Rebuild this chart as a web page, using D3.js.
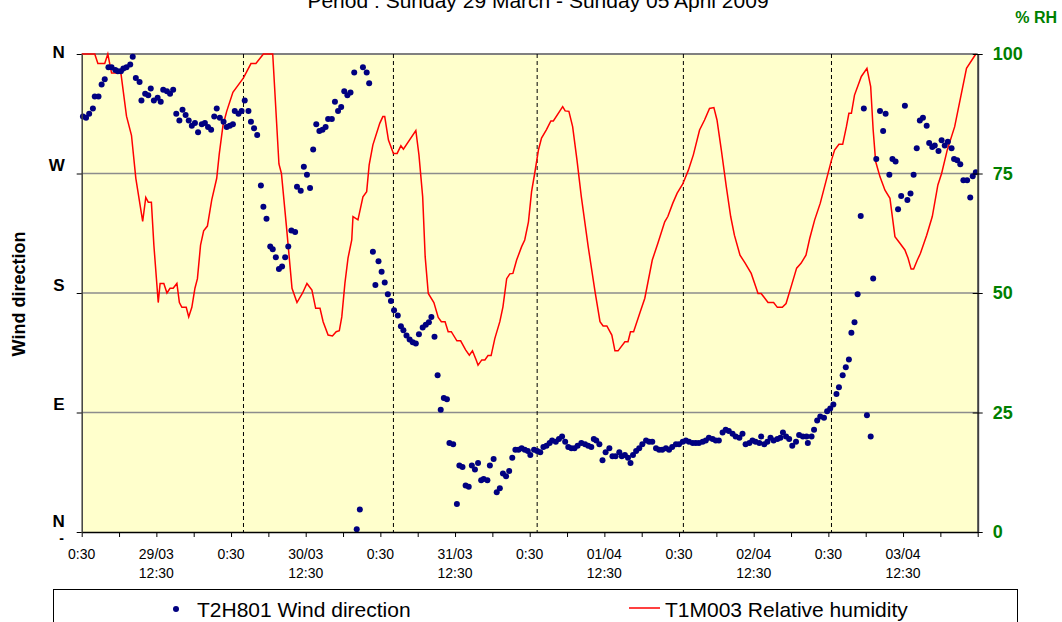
<!DOCTYPE html>
<html>
<head>
<meta charset="utf-8">
<script src="https://cdn.jsdelivr.net/npm/d3@7"></script>
<style>
  body { margin: 0; background: #fff; }
  text { font-family: "Liberation Sans", Arial, sans-serif; }
</style>
</head>
<body>
<div id="chart"></div>
<script>
// hours after 29/03 0:30
var rhHours = [0,2.1,2.6,3.7,4.2,4.8,6.3,7.2,8.0,8.7,
  9.8,10.3,10.7,11.2,11.6,12.3,12.6,13.2,13.7,14.2,
  14.7,15.3,15.7,16.1,16.8,17.2,17.7,18.2,18.6,19.1,
  19.6,20.2,20.9,21.7,22.1,22.7,23.3,24.3,26.0,27.2,
  28.0,29.2,30.7,31.7,32.1,32.9,33.8,34.6,35.5,36.2,
  37.0,37.6,38.3,38.8,39.6,40.3,40.9,41.4,41.8,42.3,
  42.8,43.4,43.6,44.4,45.2,45.8,46.2,46.8,47.9,48.4,
  48.7,49.3,50.1,50.7,51.3,51.7,53.7,54.2,54.8,55.2,
  55.7,56.6,57.3,57.8,58.4,58.9,59.4,60.3,60.9,61.7,
  62.3,62.8,63.4,63.7,64.3,64.8,65.3,65.8,66.4,67.2,
  67.7,68.3,68.8,69.3,69.9,70.7,71.2,71.8,72.3,72.8,
  73.4,73.9,74.7,75.4,75.8,77.3,77.7,78.3,78.9,79.6,
  80.3,81.4,82.5,83.3,83.8,84.4,85.2,85.7,86.2,87.3,
  87.8,88.2,88.7,89.7,90.5,91.7,92.6,93.7,94.2,95.0,
  95.7,96.6,97.5,98.3,99.3,100.1,100.9,101.6,102.1,102.8,
  103.6,104.3,104.9,105.8,106.6,107.6,108.7,109.2,110.3,111.2,
  111.8,112.6,113.2,114.1,114.9,115.6,116.4,117.0,117.8,118.7,
  119.6,120.5,121.0,121.7,122.3,122.9,123.3,123.7,124.2,125.3,
  126.2,126.8,127.2,127.6,128.3,129.1,129.9,130.7,131.5,132.3,
  132.8,133.3,133.7,134.3,134.8,135.8,136.7,137.6,138.2,139.1,
  140.3,142.2,143.7];
var rhValues = [100,100,98,98,100,96,96,87,83,74,
  65,70,69,69,60,48,52,52,50,51,
  51,52,48,47,47,45,47,51,53,60,
  63,64,69.5,74,79,85,88,92,95,98,
  98,100,100,77,75,64,51,48,50,52,
  50.6,46.8,46.8,44,41.2,41,41.9,42.1,45,52,
  57.3,61.1,66,65.3,70.1,71.2,76.8,81,85.5,86.9,
  86.9,82,79.2,79.2,80.8,80.1,84,78.9,70.1,57.6,
  49.9,48,44.9,44,44,41.9,41.9,40,40,38.1,
  37,37.9,36,34.9,36,36,36.9,36.9,40.5,44,
  47.1,53,54,54.1,56.9,59.7,61.1,64.9,71.2,75,
  79.9,82.4,84.2,86,86,89,88.1,88,84.8,77.8,
  70.1,59.7,50.3,44,43.1,43.1,41.2,37.9,37.9,39.8,
  39.8,41.9,41.9,45.8,48.9,56.9,60.4,64.9,66,68.8,
  70.9,72.8,75.7,78.9,84.1,86.2,88.6,88.8,86.2,79.9,
  72.2,66,62.1,57.9,56.3,54.1,49.9,49.9,48,48,
  47,47,47.8,51.7,55.2,56.2,57.9,61.4,65.3,68.8,
  73.3,77.8,79.9,81.1,81.1,84.8,87.6,87.6,91.4,95.3,
  97,93.2,84.1,77.5,74.3,71.5,69.8,61.8,60.4,59,
  57.3,55,55,56.9,58.3,62.1,66,72.6,75,79.9,
  84.8,97,100];

var windHours = [0.2,0.7,1.2,1.8,2.1,2.7,3.2,3.7,4.3,4.8,
  5.4,5.8,6.3,6.7,7.2,7.8,8.2,8.7,9.3,9.6,
  10.2,10.7,11.1,11.6,12.2,12.7,13.1,13.7,14.2,14.7,
  15.2,15.7,16.2,16.7,17.2,17.7,18.2,18.7,19.3,19.8,
  20.3,20.8,21.3,21.7,22.2,22.8,23.3,23.8,24.3,24.6,
  25.2,25.7,26.2,26.8,27.2,27.7,28.2,28.8,29.2,29.7,
  30.3,30.7,31.2,31.7,32.2,32.7,33.2,33.7,34.3,34.6,
  35.2,35.7,36.2,36.7,37.2,37.7,38.2,38.7,39.2,39.6,
  40.2,40.7,41.2,41.7,42.2,42.7,43.2,43.8,44.2,44.7,
  45.2,45.8,46.2,46.8,47.2,47.7,48.2,48.7,49.2,49.7,
  50.2,50.8,51.3,51.7,52.2,52.7,53.2,53.7,54.2,54.8,
  55.3,55.8,56.2,56.7,57.2,57.7,58.2,58.7,59.1,59.7,
  60.3,60.7,61.2,61.7,62.2,62.7,63.2,63.7,64.2,64.6,
  65.2,65.6,66.2,66.7,67.2,67.7,68.2,68.7,69.2,69.7,
  70.2,70.7,71.2,71.7,72.1,72.7,73.2,73.7,74.2,74.7,
  75.2,75.6,76.2,76.7,77.2,77.7,78.2,78.7,79.2,79.7,
  80.3,80.9,81.4,81.9,82.3,82.7,83.2,83.7,84.2,84.8,
  85.3,85.8,86.4,86.8,87.3,87.8,88.2,88.6,89.1,89.6,
  90.1,90.7,91.2,91.7,92.3,92.8,93.3,93.9,94.4,94.9,
  95.5,96.0,96.6,97.1,97.6,98.2,98.7,99.2,99.8,100.3,
  100.8,101.4,101.9,102.4,103.0,103.5,104.0,104.6,105.1,105.7,
  106.2,106.7,107.3,107.8,108.3,108.9,109.2,109.7,110.2,110.7,
  111.2,111.8,112.3,112.7,113.2,113.7,114.2,114.8,115.3,115.9,
  116.5,116.7,117.3,117.7,118.2,118.7,119.3,119.8,120.3,120.8,
  121.3,121.7,122.3,122.8,123.3,123.7,124.2,124.7,125.2,125.7,
  126.2,126.8,127.2,127.7,128.3,128.8,129.2,129.8,130.3,130.8,
  131.2,131.7,132.3,132.7,133.2,133.7,134.2,134.7,135.2,135.8,
  136.2,136.7,137.1,137.7,138.2,138.7,139.2,139.8,140.2,140.7,
  141.2,141.7,142.3,142.8,143.2,143.7];
var windDeg = [313,312,315,319,328,328,337,341,350,350,
  348,347,347,349,350,352,358,342,339,325,
  330,329,334,325,327,324,333,332,330,333,
  315,310,318,314,310,306,308,301,307,308,
  305,303,313,319,312,309,305,306,307,317,
  315,317,325,317,309,304,299,261,245,236,
  215,213,207,198,200,207,215,227,226,260,
  257,275,269,259,288,307,302,303,305,311,
  311,324,317,320,332,329,331,346,2,17,
  350,346,338,211,186,204,196,188,179,174,
  167,163,155,152,148,145,143,142,149,154,
  156,158,162,147,118,92,101,100,67,66,
  21,50,49,35,34,50,47,52,39,40,
  39,50,55,30,33,44,42,46,56,62,
  62,63,62,61,58,62,61,60,64,65,
  67,69,68,70,72,68,64,63,63,65,
  67,66,65,64,70,69,66,54,60,63,
  57,57,60,57,58,56,52,58,61,63,
  66,69,68,68,63,62,62,63,62,64,
  66,66,68,69,68,67,67,67,68,69,
  71,70,69,69,75,77,76,74,72,71,
  74,66,67,69,68,67,72,66,68,71,
  69,70,71,75,72,70,65,68,73,72,
  72,67,72,77,84,87,86,91,93,96,
  104,109,118,124,130,150,158,179,238,319,
  88,72,191,281,317,302,315,269,281,279,
  243,253,321,250,255,269,289,310,312,306,
  293,290,291,287,295,291,294,289,281,280,
  277,265,265,252,268,271];

var markerHours = [26.0, 50.1, 73.2, 96.7, 120.5];

var xLabelHours = [0,12,24,36,48,60,72,84,96,108,120,132];
var xLabelTop = ["0:30","29/03","0:30","30/03","0:30","31/03","0:30","01/04","0:30","02/04","0:30","03/04"];
var xLabelBottom = ["","12:30","","12:30","","12:30","","12:30","","12:30","","12:30"];

var dirTicks = [0, 90, 180, 270, 360];
var dirLabels = ["N", "E", "S", "W", "N"];
var rhTicks = [0, 25, 50, 75, 100];

var title = "Period : Sunday 29 March - Sunday 05 April 2009";

var width = 1062, height = 622;
var pLeft = 81.7, pRight = 977.7, pTop = 54, pBottom = 532;

var svg = d3.select("#chart").append("svg")
    .attr("width", width)
    .attr("height", height);

var x = d3.scaleLinear().domain([0, 144]).range([pLeft, pRight]);
var yDir = d3.scaleLinear().domain([0, 360]).range([pBottom, pTop]);
var yRh = d3.scaleLinear().domain([0, 100]).range([pBottom, pTop]);

svg.append("rect")
    .attr("x", pLeft).attr("y", pTop)
    .attr("width", pRight - pLeft).attr("height", pBottom - pTop)
    .style("fill", "#ffffcc");

// horizontal grid
svg.selectAll(".grid")
    .data([25, 50, 75])
  .enter().append("line")
    .attr("class", "grid")
    .attr("x1", pLeft).attr("x2", pRight)
    .attr("y1", function(d){ return yRh(d); })
    .attr("y2", function(d){ return yRh(d); })
    .style("stroke", "#8c8c8c").style("stroke-width", 1.3);

svg.append("line")
    .attr("x1", pLeft).attr("x2", pRight).attr("y1", pTop).attr("y2", pTop)
    .style("stroke", "#808080").style("stroke-width", 2);

// day markers
svg.selectAll(".marker")
    .data(markerHours)
  .enter().append("line")
    .attr("class", "marker")
    .attr("x1", function(d){ return x(d); })
    .attr("x2", function(d){ return x(d); })
    .attr("y1", pTop).attr("y2", pBottom)
    .style("stroke", "#000").style("stroke-width", 1)
    .style("stroke-dasharray", "4,3");

var rhLine = d3.line()
    .x(function(d){ return x(d[0]); })
    .y(function(d){ return yRh(d[1]); });

svg.append("path")
    .datum(d3.zip(rhHours, rhValues))
    .attr("d", rhLine)
    .style("fill", "none").style("stroke", "#ff0000").style("stroke-width", 1.5);

svg.selectAll(".dot")
    .data(d3.zip(windHours, windDeg))
  .enter().append("circle")
    .attr("class", "dot")
    .attr("cx", function(d){ return x(d[0]); })
    .attr("cy", function(d){ return yDir(d[1]); })
    .attr("r", 3)
    .style("fill", "#000080");

// bottom axis
var xg = svg.append("g")
    .attr("transform", "translate(0," + pBottom + ")")
    .call(d3.axisBottom(x).tickValues(d3.range(0, 145, 6)).tickSize(5).tickSizeOuter(0).tickFormat(""));
xg.select(".domain").style("stroke", "#000").style("stroke-width", 1.3);
xg.selectAll(".tick line").style("stroke", "#000");

var xl = svg.selectAll(".xlab")
    .data(xLabelHours)
  .enter().append("text")
    .attr("class", "xlab")
    .attr("x", function(d){ return x(d); })
    .attr("y", 559)
    .attr("text-anchor", "middle")
    .style("font-size", "14px");
xl.append("tspan").text(function(d, i){ return xLabelTop[i]; });
xl.append("tspan")
    .attr("x", function(d){ return x(d); })
    .attr("dy", 19)
    .text(function(d, i){ return xLabelBottom[i]; });

// left axis
var yl = svg.append("g")
    .attr("transform", "translate(" + pLeft + ",0)")
    .call(d3.axisLeft(yDir).tickValues(dirTicks).tickSize(5).tickPadding(12).tickSizeOuter(0)
      .tickFormat(function(d, i){ return dirLabels[i]; }));
yl.select(".domain").style("stroke", "#404040").style("stroke-width", 1.5);
yl.selectAll("text")
    .attr("y", function(d){ return d === 360 ? -2 : (d === 0 ? -11 : -8); })
    .style("font-size", "17px").style("font-weight", "bold").style("fill", "#000");

svg.append("text")
    .attr("x", 64).attr("y", 543)
    .attr("text-anchor", "end")
    .style("font-size", "14px").style("font-weight", "bold")
    .text("-");

svg.append("text")
    .attr("transform", "translate(25,294) rotate(-90)")
    .attr("text-anchor", "middle")
    .style("font-size", "18px").style("font-weight", "bold")
    .text("Wind direction");

// right axis
var yr = svg.append("g")
    .attr("transform", "translate(" + pRight + ",0)")
    .call(d3.axisRight(yRh).tickValues(rhTicks).tickSize(5).tickPadding(10).tickSizeOuter(0));
yr.select(".domain").style("stroke", "#404040").style("stroke-width", 2);
yr.selectAll(".tick line").attr("x1", -5).style("stroke", "#000");
yr.selectAll("text")
    .style("font-size", "18px").style("font-weight", "bold").style("fill", "#008000");

svg.append("text")
    .attr("x", 1057).attr("y", 23)
    .attr("text-anchor", "end")
    .style("font-size", "16px").style("font-weight", "bold").style("fill", "#008000")
    .text("% RH");

svg.append("text")
    .attr("x", 538).attr("y", 8)
    .attr("text-anchor", "middle")
    .style("font-size", "21px").style("fill", "#000")
    .text(title);

// legend
var lg = svg.append("g").attr("class", "legend");
lg.append("rect")
    .attr("x", 53.5).attr("y", 589.5)
    .attr("width", 964).attr("height", 50)
    .style("fill", "#fff").style("stroke", "#000").style("stroke-width", 1);
lg.append("circle")
    .attr("cx", 176).attr("cy", 609).attr("r", 3)
    .style("fill", "#000080");
lg.append("text")
    .attr("x", 197).attr("y", 617)
    .style("font-size", "21px")
    .text("T2H801 Wind direction");
lg.append("line")
    .attr("x1", 629).attr("x2", 660).attr("y1", 608).attr("y2", 608)
    .style("stroke", "#ff0000").style("stroke-width", 1.5);
lg.append("text")
    .attr("x", 665).attr("y", 617)
    .style("font-size", "21px")
    .text("T1M003 Relative humidity");
</script>
</body>
</html>
